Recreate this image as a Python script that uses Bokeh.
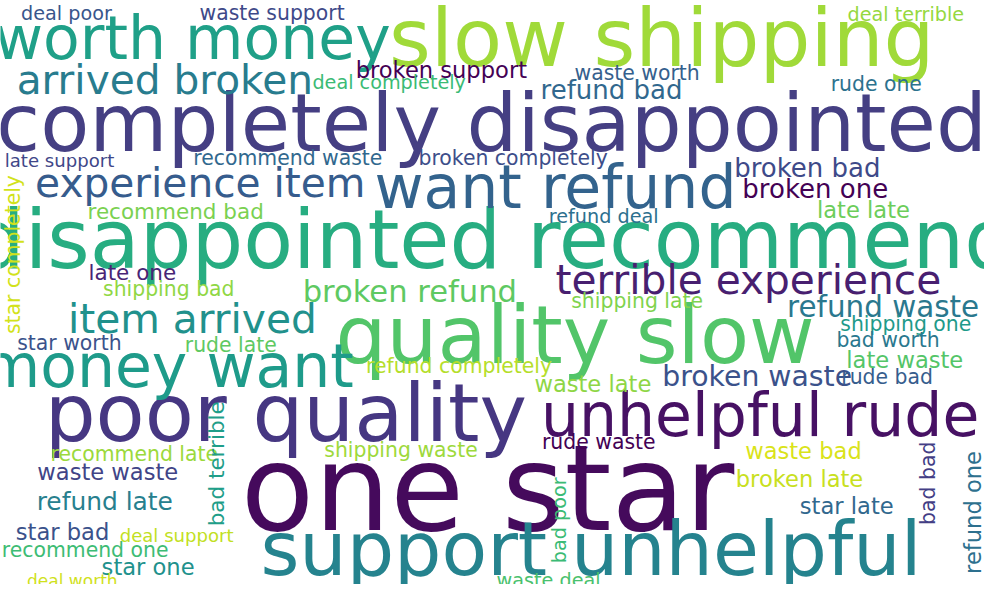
import math
from bokeh.plotting import figure
from bokeh.models import ColumnDataSource, Range1d
from bokeh.core.properties import value
from bokeh.embed import file_html
from bokeh.resources import INLINE

# word cloud: phrase, center position, font size (px), colour, vertical flag
words = ["one star", "completely disappointed", "disappointed recommend", "slow shipping",
         "quality slow", "poor quality", "support unhelpful", "unhelpful rude", "worth money",
         "money want", "want refund", "arrived broken", "experience item", "terrible experience",
         "item arrived", "broken refund", "refund waste", "broken waste", "broken bad", "broken one",
         "refund bad", "broken support", "waste worth", "waste support", "deal poor", "deal terrible",
         "deal completely", "rude one", "late support", "recommend waste", "broken completely",
         "recommend bad", "refund deal", "late late", "late one", "shipping bad", "shipping late",
         "shipping one", "bad worth", "star worth", "rude late", "refund completely", "late waste",
         "waste late", "rude bad", "rude waste", "shipping waste", "recommend late", "waste bad",
         "waste waste", "broken late", "refund late", "star late", "star bad", "deal support",
         "recommend one", "star one", "deal worth", "waste deal",
         "star completely", "bad terrible", "bad poor", "bad bad", "refund one"]
word_x = [495, 499, 502, 672, 584, 290, 600, 772, 195, 170, 564, 167, 203, 760, 195, 416, 897,
          769, 820, 828, 621, 448, 647, 276, 67, 920, 395, 890, 60, 292, 521, 178, 613, 877, 134,
          171, 647, 920, 902, 70, 234, 466, 919, 602, 901, 608, 407, 136, 816, 109, 812, 106, 860,
          63, 179, 86, 150, 73, 557,
          13, 220, 568, 943, 988]
word_y = [497, 122, 242, 35, 340, 420, 560, 422, 35, 372, 188, 78, 183, 283, 323, 295, 311, 382,
          168, 190, 88, 67, 70, 9, 9, 10, 80, 82, 160, 158, 158, 213, 218, 211, 275, 292, 305, 328,
          345, 348, 350, 372, 365, 390, 383, 450, 458, 462, 459, 480, 488, 511, 515, 542, 546, 561,
          578, 592, 592,
          257, 472, 530, 492, 522]
word_size = [106, 71, 72, 71, 71, 71, 66, 53, 53, 53, 53, 36, 36, 36, 36, 27, 26, 25, 23, 23, 23,
             20, 18, 18, 17, 17, 17, 18, 16, 18, 18, 19, 17, 20, 19, 18, 18, 18, 18, 18, 18, 18,
             20, 20, 18, 18, 18, 18, 20, 20, 20, 22, 20, 20, 16, 18, 20, 15, 17,
             18, 19, 17, 18, 20]
word_color = ["#450a5c", "#453f83", "#27ad81", "#a0da39", "#52c569", "#463782", "#25838e",
              "#471164", "#1fa088", "#1e9b8a", "#33638d", "#287c8e", "#365c8d", "#481f70",
              "#21918c", "#5ec962", "#2a788e", "#3b528b", "#3e4a89", "#440154", "#31688e",
              "#440154", "#35608d", "#3e4989", "#39568c", "#95d840", "#3bbb75", "#2c728e",
              "#3f4788", "#31688e", "#3d4e8a", "#7ad151", "#2d708e", "#6ccd5a", "#482576",
              "#8fd744", "#7fd34e", "#1f9a8a", "#2a788e", "#3b528b", "#5ec962", "#b5de2b",
              "#54c568", "#8ed645", "#365d8d", "#440154", "#9dd93b", "#9bd93c", "#dae319",
              "#414487", "#c8e020", "#27808e", "#31688e", "#3b528b", "#c2df23", "#3dbc74",
              "#21918c", "#d0e11c", "#4ac16d",
              "#d2e21b", "#1f9e89", "#3bbb75", "#433e85", "#2d708e"]
vertical = [False] * 59 + [True] * 5

scale = 984 / 1000 * 1.15
source = ColumnDataSource(data=dict(
    text=words, x=word_x, y=[y + 4 for y in word_y], color=word_color,
    size=[f"{s * scale:.1f}px" for s in word_size],
    angle=[math.pi / 2 if v else 0 for v in vertical],
))

p = figure(width=984, height=584, output_backend="svg", toolbar_location=None,
           x_range=Range1d(0, 1000), y_range=Range1d(600, 0), min_border=0)
p.axis.visible = False
p.grid.visible = False
p.outline_line_color = None
p.background_fill_color = "white"

p.text("x", "y", text="text", source=source, text_color="color", text_font_size="size",
       angle="angle", text_align="center", text_baseline="middle",
       text_font=value("DejaVu Sans"))

open("out.html", "w").write(file_html(p, INLINE))
